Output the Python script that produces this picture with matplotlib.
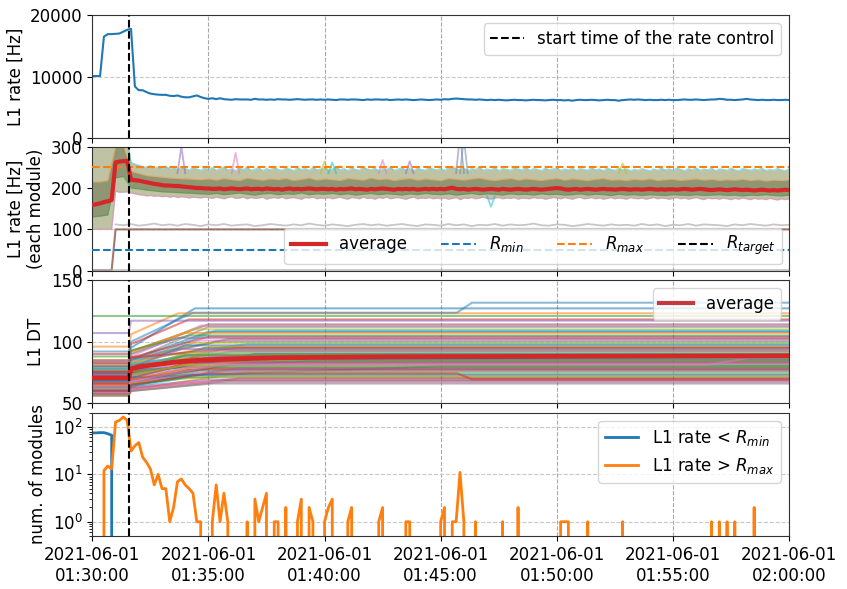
import numpy as np
import matplotlib
matplotlib.use("Agg")
import matplotlib.pyplot as plt
import matplotlib.dates as mdates
from matplotlib.lines import Line2D

# ---------------- data ----------------
T0 = np.datetime64('2021-06-01T01:30:00')
T_END = np.datetime64('2021-06-01T02:00:00')
t_sec = np.arange(0, 1810, 10)          # 10 s sampling
t_ctrl = 94                              # start of the rate control [s]

# panel 1: total L1 rate [Hz]
total_rate = [10100, 10100, 10100, 16500, 16900, 16900, 16950, 17000, 17300, 17600,
              17750, 8400, 7800, 7800, 7500, 7250, 7150, 7080, 7050, 7050,
              6900, 6850, 6950, 6750, 6650, 6650, 6800, 6950, 6700, 6500,
              6400, 6500, 6350, 6500, 6350, 6300, 6250, 6350, 6300, 6300,
              6300, 6250, 6400, 6300, 6300, 6250,
              6300, 6250, 6350, 6300, 6300, 6250, 6300, 6350, 6300, 6250, 6300, 6300, 6250, 6300, 6250,
              6300, 6250, 6200, 6300, 6300, 6250, 6300, 6300, 6250, 6200, 6300, 6250, 6300, 6300, 6250,
              6300, 6200, 6250, 6300, 6250, 6300, 6250, 6200, 6250, 6300, 6250, 6200, 6250, 6300, 6250,
              6350, 6300, 6400, 6450, 6400, 6350, 6300, 6300, 6250, 6300, 6250, 6200, 6250, 6200, 6250,
              6200, 6150, 6200, 6250, 6200, 6200, 6150, 6200, 6250, 6200, 6200, 6150, 6200, 6250, 6200,
              6200, 6150, 6200, 6100, 6200, 6250, 6200, 6200, 6250, 6200, 6150, 6200, 6250, 6200, 6200,
              6100, 6200, 6250, 6300, 6250, 6300, 6250, 6200, 6250, 6200, 6200, 6250, 6200, 6250, 6200,
              6200, 6250, 6300, 6250, 6250, 6300, 6250, 6200, 6250, 6300, 6300, 6400, 6350, 6250, 6250,
              6200, 6250, 6300, 6400, 6300, 6250, 6200, 6250, 6200, 6200, 6250, 6200, 6200, 6250, 6200]

# panel 2: module average and envelope of all module rates [Hz]
avg_rate = [159, 161, 163, 166, 168, 171, 262, 264, 265, 266,
            220, 219, 218, 216, 214, 212, 210, 209, 207, 206, 206, 205, 205, 204, 203, 202, 201, 200, 200, 199,
            199, 198, 198, 199, 197, 198, 199, 198, 197, 198, 199, 197, 198, 198, 197, 199, 198, 197, 198, 196,
            198, 199, 197, 198, 197, 198, 199, 198, 197, 198,
            198, 197, 198, 196, 198, 197, 198, 199, 197, 198, 197, 196, 198, 197, 198, 199, 198, 197, 196, 198,
            197, 198, 197, 198, 196, 197, 198, 197, 198, 197,
            198, 197, 199, 201, 198, 197, 198, 196, 197, 198, 197, 196, 197, 198, 197, 196, 198, 197, 196, 197,
            198, 197, 196, 197, 198, 197, 196, 197, 198, 199,
            200, 199, 197, 196, 197, 198, 196, 197, 198, 197, 196, 197, 198, 197, 197, 196, 197, 198, 197, 196,
            197, 197, 196, 197, 198, 197, 196, 197, 196, 197,
            197, 196, 197, 198, 197, 196, 197, 198, 197, 196, 195, 196, 197, 196, 195, 196, 197, 196, 195, 196,
            195, 194, 195, 196, 195, 194, 195, 194, 195, 196, 195]

band_hi = [300, 300, 300, 300, 300, 300, 320, 320, 320, 320,
           262, 258, 255, 252, 250, 254, 248, 251, 247, 253, 246, 249, 245, 250, 247, 244, 249, 246, 243, 248,
           245, 249, 243, 247, 251, 244, 246, 242, 248, 245, 250, 243, 246, 249, 242, 247, 244, 251, 245, 243,
           248, 246, 242, 249, 245, 247, 243, 250, 244, 246,
           248, 243, 246, 250, 244, 247, 242, 249, 245, 243, 251, 246, 244, 248, 242, 247, 245, 250, 243, 246,
           249, 244, 247, 242, 248, 245, 243, 250, 246, 244,
           247, 243, 249, 252, 246, 244, 248, 242, 247, 245, 250, 243, 246, 244, 249, 242, 247, 245, 243, 248,
           246, 244, 250, 243, 247, 245, 242, 248, 244, 246,
           249, 243, 246, 244, 248, 242, 247, 245, 243, 249, 244, 246, 242, 248, 245, 243, 247, 244, 246, 242,
           245, 243, 247, 244, 242, 246, 243, 248, 244, 246,
           243, 248, 245, 242, 247, 244, 249, 243, 246, 244, 248, 242, 246, 245, 243, 248, 244, 242, 247, 245,
           243, 246, 244, 248, 242, 245, 243, 247, 244, 242, 246]

band_lo = [100, 100, 100, 100, 100, 100, 192, 190, 190, 191,
           188, 186, 184, 183, 181, 182, 180, 181, 179, 180, 178, 180, 177, 179, 178, 176, 178, 177, 176, 178,
           177, 175, 178, 176, 174, 177, 179, 175, 176, 178, 174, 177, 175, 176, 178, 173, 176, 177, 175, 178,
           174, 176, 177, 175, 173, 177, 176, 178, 174, 176,
           175, 177, 174, 176, 178, 175, 173, 177, 176, 174, 178, 175, 176, 173, 177, 175, 178, 174, 176, 177,
           175, 173, 176, 178, 174, 176, 175, 177, 174, 176,
           174, 176, 173, 175, 177, 172, 176, 175, 177, 174, 176, 178, 175, 173, 176, 177, 174, 176, 175, 177,
           173, 176, 175, 174, 177, 175, 176, 173, 175, 177,
           176, 174, 177, 175, 173, 176, 178, 174, 175, 177, 174, 176, 173, 175, 177, 174, 176, 175, 173, 177,
           175, 174, 176, 173, 175, 177, 174, 176, 175, 173,
           175, 177, 174, 176, 173, 175, 177, 174, 172, 176, 174, 175, 173, 176, 174, 172, 175, 173, 176, 174,
           172, 175, 173, 174, 172, 175, 173, 171, 174, 172, 174]

# denser core of the module rates, 20 s sampling
t_core = np.arange(0, 1810, 20)
core_hi = [215, 215, 218, 300, 300, 240, 235, 230, 228, 226, 224, 223, 222, 221, 220,
           222, 219, 223, 220, 218, 224, 221, 219, 222, 220, 223, 218, 221, 224, 219,
           222, 220, 218, 223, 221, 219, 224, 220, 222, 218, 221, 223, 219, 222, 220,
           218, 223, 221, 219, 222, 224, 220, 218, 221, 223, 219, 222, 220, 218, 221,
           223, 219, 222, 220, 218, 221, 223, 219, 220, 218, 221, 219, 222, 218, 220,
           221, 218, 220, 222, 219, 221, 218, 220, 219, 221, 218, 220, 217, 219, 218, 219]
core_lo = [130, 132, 135, 225, 228, 200, 198, 195, 193, 191, 190, 189, 188, 187, 186,
           185, 187, 184, 186, 188, 185, 183, 186, 187, 184, 186, 185, 188, 184, 186,
           185, 187, 184, 186, 183, 185, 187, 184, 186, 185, 183, 186, 184, 187, 185,
           184, 186, 183, 185, 187, 184, 186, 185, 183, 186, 184, 185, 183, 186, 184,
           185, 183, 184, 186, 183, 185, 184, 182, 185, 183, 184, 182, 184, 183, 182,
           184, 183, 182, 184, 182, 183, 184, 182, 183, 181, 183, 182, 184, 182, 181, 183]

# single-module excursions out of the band
spike_t = [230, 370, 600, 620, 750, 820, 950, 960, 1370, 1030]
spike_v = [300, 285, 265, 262, 268, 265, 330, 320, 260, 155]

# an individual module around 110 Hz (20 s sampling from t = 60 s)
grey_mod = [112, 110, 113, 109, 111, 114, 110, 112, 109, 113, 111, 108, 112, 110, 113, 109, 111, 112,
            108, 110, 113, 111, 109, 112, 110, 114, 111, 109, 112, 110, 108, 111, 113, 110, 112, 109,
            111, 113, 110, 108, 112, 111, 109, 113, 110, 112, 108, 111, 110, 113, 109, 112, 110, 111,
            114, 110, 109, 112, 111, 108, 110, 113, 111, 109, 112, 110, 111, 109, 113, 110, 112, 108,
            111, 110, 113, 109, 112, 111, 110, 108, 112, 110, 113, 111, 109, 112, 110, 111]

R_MIN, R_MAX, R_TARGET = 50, 250, 200

# panel 3: per-module DT before control, right after the start, final value, settling time
dt_before = [85, 96, 120.5, 90, 107, 80, 78, 75, 82, 72, 76, 85,
             88, 80, 84, 78, 75, 82, 74, 79, 72, 77, 70, 83, 73, 76, 68, 74, 71, 78, 66, 72, 69, 75,
             67, 70, 73, 65, 71, 68, 74, 66, 70, 64, 69, 72, 62, 67, 70, 63, 68, 65, 60, 66, 63, 61,
             64, 59, 62, 58, 60, 57, 63, 58, 61, 56, 59, 57]
dt_jump = [95, 106, 120.5, 98, 117, 92, 88, 85, 90, 82, 85, 92,
           93, 87, 90, 85, 83, 87, 81, 85, 79, 83, 77, 87, 79, 81, 75, 79, 77, 82, 73, 77, 75, 79,
           73, 75, 77, 71, 75, 73, 77, 71, 74, 70, 73, 75, 68, 71, 73, 68, 71, 69, 66, 69, 67, 66,
           67, 64, 66, 63, 64, 61, 65, 62, 63, 60, 61, 60]
dt_final = [127, 123, 120.5, 118, 117, 114, 113, 112, 110, 109, 108, 107,
            105, 104, 103, 102, 101, 100, 99, 98, 97, 96, 95, 95, 94, 93, 92, 92, 91, 90, 90, 89, 89,
            88, 88, 87, 87, 86, 86, 85, 85, 84, 84, 83, 83, 82, 82, 81, 81, 80, 80, 79, 79, 78, 78,
            77, 76, 76, 75, 74, 73, 72, 71, 70, 69, 68, 67, 66]
dt_settle = [265, 222, 100, 250, 110, 300, 280, 300, 260, 320, 300, 240,
             250, 300, 220, 350, 280, 320, 260, 400, 240, 310, 290, 380, 230, 330, 270, 360, 250, 300,
             420, 280, 240, 340, 310, 260, 380, 290, 230, 350, 600, 270, 320, 250, 400, 300, 280, 360,
             240, 330, 900, 260, 310, 290, 370, 250, 340, 280, 420, 300, 260, 330, 240, 380, 290, 350,
             270, 310]
# modules with a late step (breakpoints)
late_t = [[0, 94, 100, 260, 942, 981, 1800],
          [0, 94, 100, 300, 942, 981, 1800],
          [0, 94, 100, 330, 1590, 1700, 1800]]
late_v = [[92, 92, 100, 123.5, 123.5, 131.6, 131.6],
          [60, 60, 65, 74.3, 74.3, 69.5, 69.5],
          [63, 63, 68, 81, 81, 87, 87]]
dt_avg_t = [0, 94, 100, 120, 150, 180, 210, 240, 270, 300, 360, 420, 480, 600, 720, 900, 1200, 1500, 1800]
dt_avg = [70.5, 70.5, 78, 79.5, 81, 82, 83.3, 84.2, 84.8, 85.3, 85.9, 86.5, 86.9, 87.3, 87.6, 87.8,
          88.0, 88.2, 88.4]

# panel 4: number of modules below R_min / above R_max (non-zero samples only)
low_t = [0, 10, 20, 30, 40, 50]
low_n = [75, 75, 76, 76, 72, 67]
high_t = [30, 40, 50, 60, 70, 80, 90, 100, 110, 120, 130, 140, 150, 160, 170, 180, 190, 200, 210,
          220, 230, 240, 250, 260, 270, 280, 310, 320, 330, 340, 350, 400, 420, 430, 440, 450,
          470, 480, 500, 530, 540, 560, 570, 600, 610, 620, 660, 670, 740, 750, 810, 820, 900, 910,
          930, 940, 950, 960, 990, 1060, 1100, 1210, 1220, 1230, 1280, 1370, 1600, 1620, 1640, 1660, 1710]
high_n = [12, 15, 13, 127, 138, 162, 138, 31, 40, 47, 23, 18, 13, 6, 10, 5, 5, 1, 2,
          7, 8, 6, 5, 4, 1, 1, 1, 6, 1, 4, 1, 1, 3, 1, 2, 4,
          1, 1, 2, 1, 3, 2, 1, 1, 2, 3, 1, 2, 1, 2, 1, 1, 1, 2,
          1, 1, 11, 1, 1, 1, 2, 1, 1, 1, 1, 1, 1, 1, 1, 1, 2]

# ---------------- helpers ----------------
def tt(sec):
    return T0 + np.asarray(sec).astype('timedelta64[s]')

def counts(ts, ns):
    arr = np.zeros(len(t_sec))
    arr[np.asarray(ts) // 10] = ns
    return arr

plt.rcParams['font.family'] = ['DejaVu Sans']
plt.rcParams['font.size'] = 12

fig = plt.figure(figsize=(8.47, 5.89), dpi=100)
L, W, H = 0.1090, 0.8225, 0.2093
ax1 = fig.add_axes([L, 0.7652, W, H])
ax2 = fig.add_axes([L, 0.5404, W, 0.2105])
ax3 = fig.add_axes([L, 0.3153, W, H])
ax4 = fig.add_axes([L, 0.0900, W, H])
axes = [ax1, ax2, ax3, ax4]

tab = plt.rcParams['axes.prop_cycle'].by_key()['color']
x = tt(t_sec)

# panel 1
ax1.plot(x, total_rate, color='tab:blue', lw=1.5)
ax1.set_ylim(0, 20000)
ax1.set_yticks([0, 10000, 20000])
ax1.set_ylabel('L1 rate [Hz]')
ax1.legend(handles=[Line2D([], [], color='black', ls='--', lw=1.5)],
           labels=['start time of the rate control'], loc='upper right', fontsize=12)

# panel 2
ax2.axhline(R_TARGET, color='black', ls='--', lw=1.5, zorder=1)
ax2.fill_between(x, band_lo, band_hi, color='#bfc3a4', lw=0, zorder=2)
ax2.fill_between(tt(t_core), core_lo, core_hi, color='#8f9674', lw=0, zorder=2.1)
ax2.plot(x, band_hi, color='#17becf', lw=1.0, alpha=0.45, zorder=2.15)
ax2.plot(x, band_lo, color='#e377c2', lw=1.0, alpha=0.45, zorder=2.15)
ax2.plot(tt(t_core), core_hi, color='#ff7f0e', lw=1.0, alpha=0.35, zorder=2.15)
ax2.plot(tt(t_core), core_lo, color='#2ca02c', lw=1.0, alpha=0.35, zorder=2.15)
spike_cols = ['#9467bd', '#e377c2', '#bcbd22', '#17becf', '#e377c2', '#9467bd', '#7f7f9f', '#6f8fb0', '#bcbd22', '#17becf']
for i, (st, sv) in enumerate(zip(spike_t, spike_v)):
    base = 236 if sv > 200 else 180
    ax2.plot(tt([st - 10, st, st + 10]), [base, sv, base], color=spike_cols[i], alpha=0.55, lw=1.3, zorder=2.2)
ax2.plot(tt(60 + 20 * np.arange(len(grey_mod))), grey_mod, color='#b8b8b8', lw=1.3, alpha=0.8, zorder=2.3)
ax2.plot(tt([0, 50, 60, 1800]), [1, 1, 100, 100], color='#8c564b', lw=1.5, alpha=0.8, zorder=2.3)
ax2.plot(tt([0, 1800]), [1.5, 1.5], color='#b0b0b0', lw=1.3, alpha=0.7, zorder=2.3)
ax2.plot(x, avg_rate, color='#d62728', lw=3, zorder=4)
ax2.axhline(R_MIN, color='tab:blue', ls='--', lw=1.5, zorder=3)
ax2.axhline(R_MAX, color='tab:orange', ls='--', lw=1.5, zorder=3)
ax2.set_ylim(0, 300)
ax2.set_yticks([0, 100, 200, 300])
ax2.set_ylabel('L1 rate [Hz]\n(each module)')
h2 = [Line2D([], [], color='#d62728', lw=3),
      Line2D([], [], color='tab:blue', ls='--', lw=1.5),
      Line2D([], [], color='tab:orange', ls='--', lw=1.5),
      Line2D([], [], color='black', ls='--', lw=1.5)]
ax2.legend(h2, ['average', '$R_{min}$', '$R_{max}$', '$R_{target}$'], loc='lower right', ncol=4,
           fontsize=12, handlelength=2.1, columnspacing=2.0, borderaxespad=0.4)

# panel 3
for i in range(len(dt_final)):
    ts = [0, t_ctrl, 100, max(dt_settle[i], 100), 1800]
    vs = [dt_before[i], dt_before[i], dt_jump[i], dt_final[i], dt_final[i]]
    ax3.plot(tt(ts), vs, color=tab[i % 10], alpha=0.55, lw=1.5)
for j, (lt, lv) in enumerate(zip(late_t, late_v)):
    ax3.plot(tt(lt), lv, color=tab[(j * 3) % 10], alpha=0.5, lw=1.5)
ax3.plot(tt(dt_avg_t), dt_avg, color='#d62728', lw=3.5, zorder=4)
ax3.set_ylim(50, 150)
ax3.set_yticks([50, 100, 150])
ax3.set_ylabel('L1 DT')
ax3.legend(handles=[Line2D([], [], color='#c23a3f', lw=3)], labels=['average'], loc='upper right', fontsize=12)

# panel 4
ax4.plot(x, counts(low_t, low_n), color='tab:blue', lw=2, label='L1 rate < $R_{min}$')
ax4.plot(x, counts(high_t, high_n), color='tab:orange', lw=2, label='L1 rate > $R_{max}$')
ax4.set_yscale('log', nonpositive='clip')
ax4.set_ylim(0.5, 200)
ax4.set_ylabel('num. of modules')
ax4.legend(loc='upper right', fontsize=12)

for ax in axes:
    ax.axvline(tt(t_ctrl), color='black', ls='--', lw=1.5, zorder=5)
    ax.set_xlim(T0, T_END)
    ax.xaxis.set_major_locator(mdates.MinuteLocator(byminute=range(0, 60, 5)))
    ax.xaxis.set_major_formatter(mdates.DateFormatter('%Y-%m-%d\n%H:%M:%S'))
    ax.grid(True, which='major', axis='x', ls='--', color='#a8a8a8', lw=0.8)
    ax.grid(True, which='major', axis='y', ls='--', color='#c8c8c8', lw=0.8)
    ax.tick_params(labelsize=12)
    for s in ax.spines.values():
        s.set_color('#333333')
for ax in axes[:3]:
    ax.tick_params(labelbottom=False)

fig.savefig('out.png', dpi=100)
